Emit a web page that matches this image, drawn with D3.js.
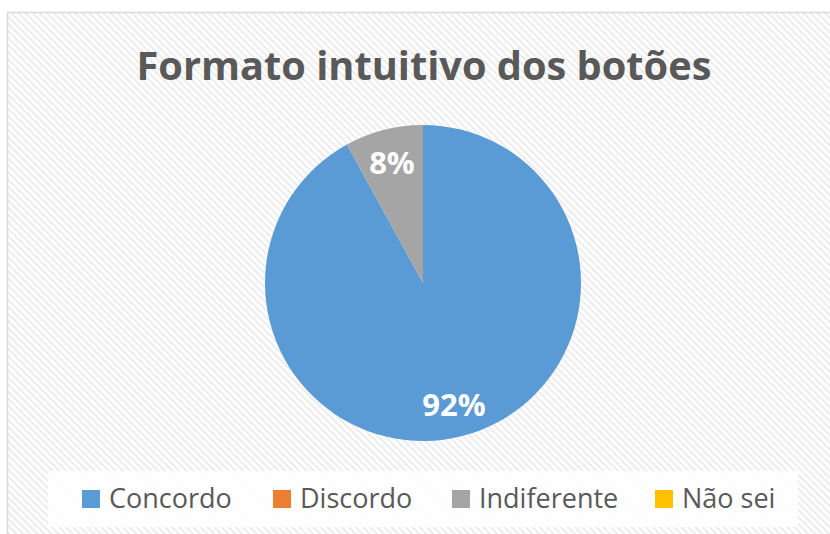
<!DOCTYPE html>
<html><head><meta charset="utf-8">
<script src="https://cdn.jsdelivr.net/npm/d3@7"></script>
<style>html,body{margin:0;padding:0;background:#fff;}svg{display:block;}</style>
</head><body>
<svg id="chart" width="830" height="534"></svg>
<script>
const title = "Formato intuitivo dos botões";
const categories = ["Concordo", "Discordo", "Indiferente", "Não sei"];
const values = [92, 0, 8, 0];
const colors = ["#5B9BD5", "#ED7D31", "#A5A5A5", "#FFC000"];
const labels = ["92%", "", "8%", ""];

const svg = d3.select("#chart");
const defs = svg.append("defs");
const pat = defs.append("pattern").attr("id","hatch").attr("patternUnits","userSpaceOnUse")
  .attr("width",5).attr("height",5).attr("patternTransform","rotate(45)");
pat.append("rect").attr("width",5).attr("height",5).attr("fill","#ffffff");
pat.append("rect").attr("width",5).attr("height",2.2).attr("fill","#ededed");

svg.append("rect").attr("x",7.5).attr("y",12.5).attr("width",840).attr("height",540)
  .attr("fill","url(#hatch)").attr("stroke","#d9d9d9").attr("stroke-width",1.5);

const font = "'Open Sans', 'Liberation Sans', sans-serif";
const t = svg.append("text").attr("x",424).attr("y",80).attr("text-anchor","middle")
  .attr("font-family",font).attr("font-weight","bold").attr("font-size",40)
  .attr("fill","#595959").text(title);
const tw = t.node().getComputedTextLength();
t.attr("font-size", 40*575/tw);

const cx = 423, cy = 283, r = 158;
const pie = d3.pie().sort(null).value(d=>d.v).startAngle(0).endAngle(2*Math.PI);
const data = categories.map((c,i)=>({c, v: values[i], col: colors[i], lab: labels[i]}));
const arcs = pie(data);
const arc = d3.arc().innerRadius(0).outerRadius(r);
const g = svg.append("g").attr("transform",`translate(${cx},${cy})`);
g.selectAll("path").data(arcs.filter(a=>a.data.v>0)).join("path")
  .attr("d",arc).attr("fill",d=>d.data.col);

const lArc = d3.arc().innerRadius(r*0.79).outerRadius(r*0.79);
g.selectAll("text.lab").data(arcs.filter(a=>a.data.v>0)).join("text").attr("class","lab")
  .attr("x",d=>lArc.centroid(d)[0]).attr("y",d=>lArc.centroid(d)[1])
  .attr("text-anchor","middle").attr("dominant-baseline","central")
  .attr("font-family",font).attr("font-weight","bold").attr("font-size",31)
  .attr("fill","#ffffff").text(d=>d.data.lab);

// legend
svg.append("rect").attr("x",48).attr("y",471).attr("width",750).attr("height",56)
  .attr("fill","#ffffff").attr("fill-opacity",0.85);
const legX = [82, 273, 452, 655];
const lg = svg.append("g");
data.forEach((d,i)=>{
  lg.append("rect").attr("x",legX[i]).attr("y",490).attr("width",18).attr("height",18).attr("fill",d.col);
  lg.append("text").attr("x",legX[i]+27).attr("y",508).attr("font-family",font)
    .attr("font-size",27).attr("fill","#595959").text(d.c);
});
</script>
</body></html>
